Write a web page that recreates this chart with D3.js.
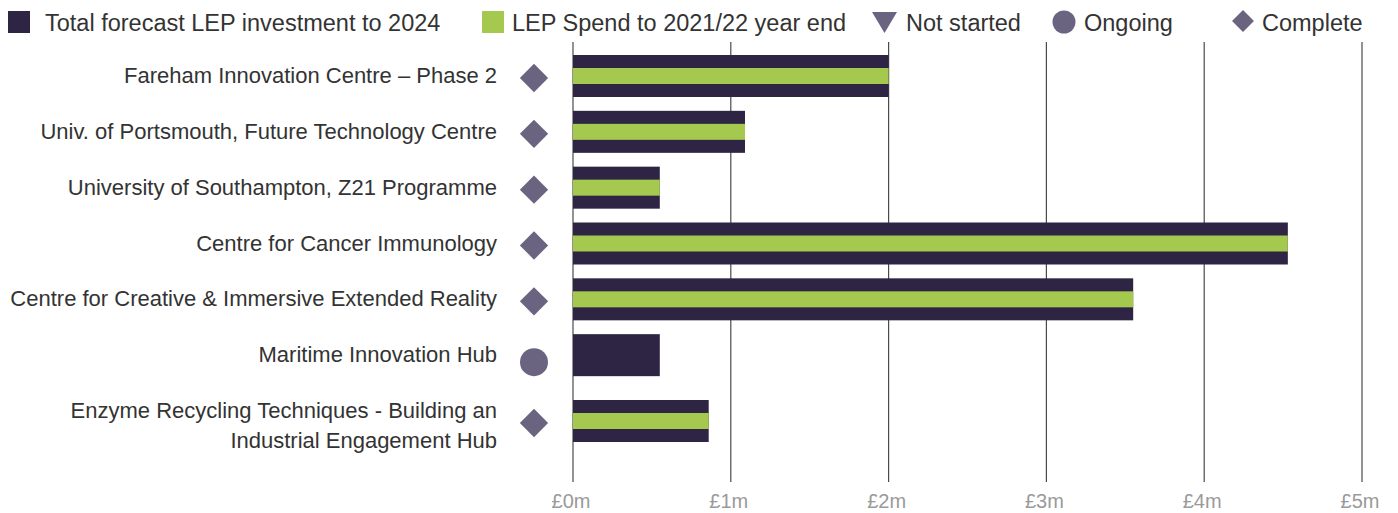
<!DOCTYPE html>
<html>
<head>
<meta charset="utf-8">
<script src="https://cdn.jsdelivr.net/npm/d3@7"></script>
<style>
  body { margin: 0; background: #fff; }
  text { font-family: "Liberation Sans", Arial, sans-serif; }
</style>
</head>
<body>
<svg id="chart" width="1398" height="513"></svg>
<script>
// data (values in £m)
var projects = [
  ["Fareham Innovation Centre \u2013 Phase 2"],
  ["Univ. of Portsmouth, Future Technology Centre"],
  ["University of Southampton, Z21 Programme"],
  ["Centre for Cancer Immunology"],
  ["Centre for Creative & Immersive Extended Reality"],
  ["Maritime Innovation Hub"],
  ["Enzyme Recycling Techniques - Building an", "Industrial Engagement Hub"]
];
var forecast = [2.0, 1.09, 0.55, 4.53, 3.55, 0.55, 0.86];
var spend    = [2.0, 1.09, 0.55, 4.53, 3.55, null, 0.86];
var projStatus = ["Complete", "Complete", "Complete", "Complete", "Complete", "Ongoing", "Complete"];
var ticks    = [0, 1, 2, 3, 4, 5];
var tickLabels = ["\u00a30m", "\u00a31m", "\u00a32m", "\u00a33m", "\u00a34m", "\u00a35m"];

var darkCol = "#2e2443", greenCol = "#a5c84f", markCol = "#6b6480";

var svg = d3.select("#chart");

var x = d3.scaleLinear().domain([0, 5]).range([573, 1362]);
var y = d3.scalePoint().domain(d3.range(projects.length)).range([76, 411]);
// two-line labels push their row down a bit
function rowY(i) { return y(i) + (projects[i].length - 1) * 10; }

// gridlines
svg.append("g").selectAll("line")
  .data(ticks).enter().append("line")
  .attr("x1", d => x(d)).attr("x2", d => x(d))
  .attr("y1", 42).attr("y2", 482)
  .attr("stroke", "#4a4a4a").attr("stroke-width", 1.2);

svg.append("g").selectAll("text")
  .data(ticks).enter().append("text")
  .attr("x", d => x(d) - 2).attr("y", 508)
  .attr("text-anchor", "middle")
  .style("font-size", "20px").style("fill", "#9a9a9a")
  .text((d, i) => tickLabels[i]);

// bars
var rows = svg.append("g").selectAll("g")
  .data(d3.range(projects.length)).enter().append("g");

rows.append("rect")
  .attr("x", x(0)).attr("y", i => rowY(i) - 21)
  .attr("width", i => x(forecast[i]) - x(0)).attr("height", 42)
  .attr("fill", darkCol);

rows.filter(i => spend[i] != null).append("rect")
  .attr("x", x(0)).attr("y", i => rowY(i) - 8)
  .attr("width", i => x(spend[i]) - x(0)).attr("height", 16)
  .attr("fill", greenCol);

// labels
rows.append("text")
  .attr("text-anchor", "end")
  .attr("x", 497)
  .attr("y", i => rowY(i) - (projects[i].length - 1) * 10 + 7)
  .style("font-size", "22px").style("fill", "#333")
  .selectAll("tspan")
  .data(i => projects[i]).enter().append("tspan")
  .attr("x", 497).attr("dy", (d, j) => j === 0 ? 0 : 30)
  .text(d => d);

// status markers
rows.append("path")
  .attr("transform", i => {
    var t = "translate(534," + (rowY(i) + (projStatus[i] === "Ongoing" ? 7 : 2)) + ")";
    return projStatus[i] === "Complete" ? t + " rotate(45)" : t;
  })
  .attr("d", i => projStatus[i] === "Ongoing"
    ? d3.symbol().type(d3.symbolCircle).size(Math.PI * 14 * 14)()
    : d3.symbol().type(d3.symbolSquare).size(400)())
  .attr("fill", markCol);

// legend
var leg = svg.append("g");
var legFont = "23.5px";
leg.append("rect").attr("x", 8).attr("y", 11).attr("width", 22).attr("height", 22).attr("fill", darkCol);
leg.append("text").attr("x", 45).attr("y", 31).style("font-size", legFont).style("fill", "#333")
  .text("Total forecast LEP investment to 2024");
leg.append("rect").attr("x", 482).attr("y", 11).attr("width", 22).attr("height", 22).attr("fill", greenCol);
leg.append("text").attr("x", 512).attr("y", 31).style("font-size", legFont).style("fill", "#333")
  .text("LEP Spend to 2021/22 year end");

leg.append("path").attr("d", "M872,12 L897,12 L884.5,33 Z").attr("fill", markCol);
leg.append("text").attr("x", 906).attr("y", 31).style("font-size", legFont).style("fill", "#333").text("Not started");
leg.append("path")
  .attr("transform", "translate(1064,22)")
  .attr("d", d3.symbol().type(d3.symbolCircle).size(Math.PI * 11.5 * 11.5)())
  .attr("fill", markCol);
leg.append("text").attr("x", 1084).attr("y", 31).style("font-size", legFont).style("fill", "#333").text("Ongoing");
leg.append("path")
  .attr("transform", "translate(1243,21) rotate(45)")
  .attr("d", d3.symbol().type(d3.symbolSquare).size(240)())
  .attr("fill", markCol);
leg.append("text").attr("x", 1262).attr("y", 31).style("font-size", legFont).style("fill", "#333").text("Complete");
</script>
</body>
</html>
